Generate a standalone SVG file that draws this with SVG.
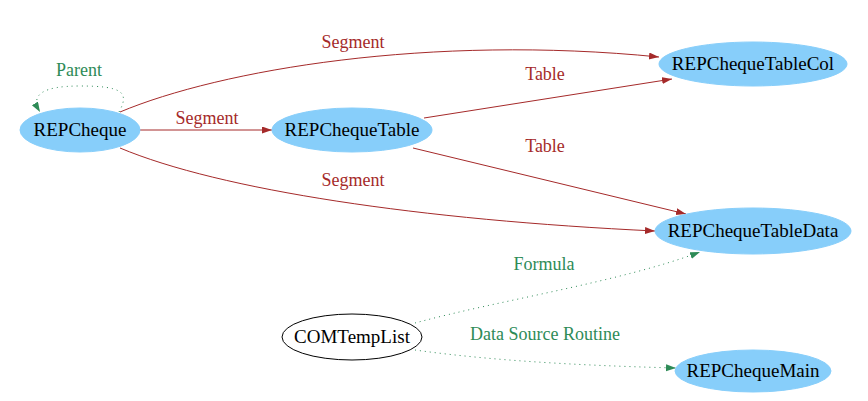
<svg xmlns="http://www.w3.org/2000/svg" width="868" height="401" viewBox="0 0 868 401">
<style>
.node ellipse{fill:#87cefa;stroke:#87cefa;stroke-width:1}
.node.plain ellipse{fill:#fff;stroke:#000}
.node text{font-family:"Liberation Serif","Times New Roman",serif;font-size:19px;fill:#000;text-anchor:middle}
.e{fill:none;stroke-width:1}
.red{stroke:#a52a2a}
.grn{stroke:#2e8b57;stroke-dasharray:1 4}
.lbl{font-family:"Liberation Serif","Times New Roman",serif;font-size:18px;text-anchor:middle}
.lr{fill:#a52a2a}
.lg{fill:#2e8b57}
</style>
<defs>
<marker id="ar" markerUnits="userSpaceOnUse" markerWidth="12" markerHeight="10" refX="10" refY="3.5" orient="auto"><path d="M0,0 L10,3.5 L0,7 z" fill="#a52a2a"/></marker>
<marker id="ag" markerUnits="userSpaceOnUse" markerWidth="12" markerHeight="10" refX="10" refY="3.5" orient="auto"><path d="M0,0 L10,3.5 L0,7 z" fill="#2e8b57"/></marker>
</defs>
<rect width="868" height="401" fill="#fff"/>
<g id="edges">
<path class="e grn" d="M119,112 C130,92 122,86 80,86 C42,86 30,95 40,112" marker-end="url(#ag)"/>
<path class="e red" d="M120,112 C220,70 430,34 659,57" marker-end="url(#ar)"/>
<path class="e red" d="M140,130 L272,130" marker-end="url(#ar)"/>
<path class="e red" d="M120,148 C220,190 420,220 655,231" marker-end="url(#ar)"/>
<path class="e red" d="M424,118 L672,79" marker-end="url(#ar)"/>
<path class="e red" d="M413,148 L686,214" marker-end="url(#ar)"/>
<path class="e grn" d="M415,323 C500,300 620,282 700,252" marker-end="url(#ag)"/>
<path class="e grn" d="M415,350 C500,362 600,366 676,368" marker-end="url(#ag)"/>
<text class="lbl lg" x="79" y="76">Parent</text>
<text class="lbl lr" x="353" y="48">Segment</text>
<text class="lbl lr" x="207" y="124">Segment</text>
<text class="lbl lr" x="353" y="186">Segment</text>
<text class="lbl lr" x="545" y="80">Table</text>
<text class="lbl lr" x="545" y="152">Table</text>
<text class="lbl lg" x="544" y="270">Formula</text>
<text class="lbl lg" x="545" y="340">Data Source Routine</text>
</g>
<g id="REPCheque" class="node"><ellipse cx="80" cy="130" rx="60" ry="22"/><text x="80" y="136">REPCheque</text></g>
<g id="REPChequeTable" class="node"><ellipse cx="352" cy="130" rx="80" ry="22"/><text x="352" y="136">REPChequeTable</text></g>
<g id="REPChequeTableCol" class="node"><ellipse cx="753" cy="64" rx="94" ry="22"/><text x="753" y="70">REPChequeTableCol</text></g>
<g id="REPChequeTableData" class="node"><ellipse cx="753" cy="231" rx="98" ry="23"/><text x="753" y="237">REPChequeTableData</text></g>
<g id="COMTempList" class="node plain"><ellipse cx="352" cy="337" rx="70" ry="23"/><text x="352" y="343">COMTempList</text></g>
<g id="REPChequeMain" class="node"><ellipse cx="753" cy="371" rx="78" ry="21"/><text x="753" y="377">REPChequeMain</text></g>
</svg>
